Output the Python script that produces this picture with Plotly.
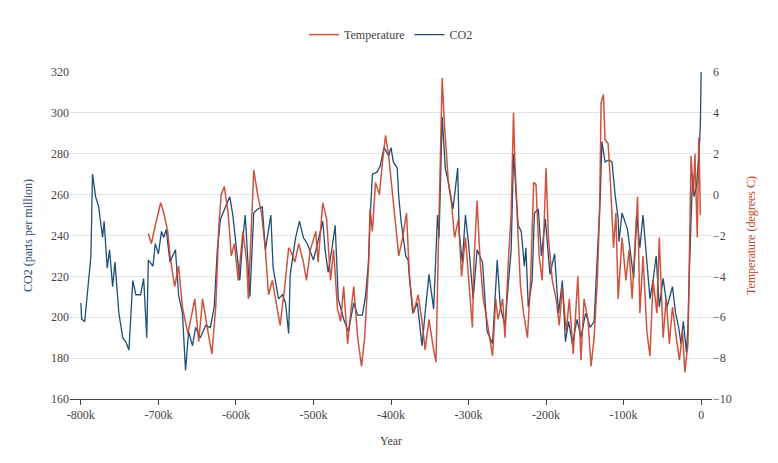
import plotly.graph_objects as go

co2_year_k = [-800,-799,-795,-790,-787,-785,-781,-777,-772,-770,-766,-763,-759,-756,-751,-746,-742,-738,-733,-729,-723,-719,-715,-713,-707,-704,-700,-696,-693,-690,-685,-678,-674,-669,-665,-661,-656,-652,-646,-639,-633,-628,-624,-620,-613,-608,-604,-600,-595,-591,-588,-582,-577,-572,-566,-562,-555,-552,-545,-540,-536,-532,-530,-523,-518,-513,-508,-500,-494,-488,-485,-481,-476,-472,-468,-461,-455,-448,-443,-437,-433,-429,-427,-424,-418,-414,-409,-403,-400,-397,-392,-390,-387,-381,-378,-372,-366,-360,-356,-351,-345,-340,-338,-334,-330,-326,-320,-314,-312,-308,-304,-300,-294,-289,-282,-276,-269,-263,-259,-253,-249,-245,-242,-238,-236,-232,-228,-226,-223,-218,-215,-210,-206,-201,-195,-189,-184,-179,-175,-171,-166,-160,-155,-149,-143,-138,-133,-130,-128,-124,-119,-115,-111,-107,-106,-102,-95,-92,-87,-83,-79,-75,-70,-66,-62,-58,-54,-49,-44,-37,-33,-29,-26,-23,-19,-17,-15,-11,-9,-6,-3,-1,0]
co2_ppm = [207,199,198,218,230,270,259,254,239,247,224,233,215,227,202,190,188,184,218,211,211,219,190,228,225,236,231,242,239,243,227,233,211,202,174,193,186,195,190,196,195,205,233,248,254,259,250,236,218,239,250,210,251,253,254,233,250,224,209,211,207,192,221,239,247,239,236,228,237,247,233,222,234,245,209,199,193,207,201,201,210,227,248,270,271,274,283,279,283,276,273,259,247,230,228,202,207,186,202,221,204,250,239,298,273,266,253,273,241,227,250,236,209,233,227,193,187,228,205,196,215,233,280,256,245,242,225,234,205,218,251,253,230,248,221,231,202,218,188,198,187,199,190,202,195,198,233,260,286,276,277,276,260,248,237,251,243,233,219,250,234,250,227,209,218,230,205,219,205,215,202,195,187,198,183,195,225,270,259,264,279,294,320]

temp_year_k = [-713,-709,-704,-697,-693,-688,-685,-679,-674,-669,-662,-658,-653,-648,-643,-637,-631,-626,-622,-619,-615,-610,-606,-602,-597,-591,-586,-584,-579,-577,-572,-567,-562,-558,-553,-546,-543,-537,-532,-530,-524,-519,-513,-509,-504,-497,-494,-488,-483,-478,-474,-469,-465,-461,-456,-452,-448,-443,-438,-434,-429,-427,-424,-420,-415,-411,-407,-403,-398,-394,-390,-385,-380,-376,-371,-365,-360,-356,-351,-345,-342,-339,-336,-334,-331,-326,-322,-318,-313,-309,-304,-299,-295,-293,-289,-285,-281,-276,-269,-265,-262,-256,-253,-249,-245,-242,-240,-236,-233,-229,-224,-220,-216,-213,-209,-205,-200,-197,-192,-187,-183,-179,-174,-170,-165,-159,-155,-151,-146,-142,-138,-134,-131,-129,-126,-124,-120,-117,-113,-110,-107,-102,-97,-93,-89,-82,-79,-75,-70,-66,-62,-57,-54,-49,-45,-41,-37,-32,-28,-24,-21,-17,-15,-13,-10,-8,-5,-3,-1]
temp_c = [-1.9,-2.4,-1.5,-0.4,-0.9,-1.8,-3.0,-4.5,-3.5,-5.5,-6.8,-6.1,-5.1,-7.2,-5.1,-6.5,-7.8,-5.5,-1.5,0.0,0.4,-0.9,-3.0,-2.4,-4.2,-1.8,-3.3,-5.1,0.0,1.2,0.0,-0.9,-2.7,-4.9,-4.2,-5.8,-6.4,-4.5,-2.6,-2.7,-3.3,-2.4,-3.3,-4.2,-2.7,-1.8,-3.3,-0.4,-1.2,-4.2,-2.7,-5.6,-6.2,-4.5,-7.3,-5.8,-4.5,-7.0,-8.4,-7.0,-3.5,-0.7,-1.8,0.6,0.0,1.6,2.9,1.9,0.0,-1.2,-3.0,-2.1,-0.9,-4.2,-5.8,-4.9,-6.2,-7.6,-6.1,-7.6,-8.2,-2.7,1.6,5.7,3.4,0.6,-0.4,-2.1,-1.2,-4.0,-2.1,-4.5,-6.5,-3.3,-0.3,-3.3,-5.1,-6.2,-7.9,-5.1,-6.1,-5.1,-7.0,-3.5,-0.9,4.0,1.4,-2.1,-4.5,-5.8,-7.0,-4.2,0.6,0.5,-3.0,-4.2,1.3,-2.1,-4.2,-5.1,-6.4,-4.5,-6.7,-5.1,-7.8,-4.0,-8.1,-5.1,-6.1,-8.4,-7.0,-4.2,-0.9,4.5,4.9,2.7,2.5,0.6,-2.6,-0.9,-5.1,-2.1,-4.2,-2.7,-5.1,-0.1,-5.8,-3.0,-6.7,-7.9,-4.2,-5.8,-2.1,-7.0,-5.1,-7.3,-5.5,-7.0,-8.1,-6.7,-8.7,-7.3,-2.7,1.9,0.0,2.0,-2.1,2.8,-1.0]

x_tick_vals = [-800000, -700000, -600000, -500000, -400000, -300000, -200000, -100000, 0]
x_tick_text = ["-800k", "-700k", "-600k", "-500k", "-400k", "-300k", "-200k", "-100k", "0"]

co2_x = [v * 1000 for v in co2_year_k]
temp_x = [v * 1000 for v in temp_year_k]

FONT = "Liberation Serif"
fig = go.Figure()
fig.add_trace(go.Scatter(x=temp_x, y=temp_c, name="Temperature", mode="lines",
                         line=dict(color="#c8432a", width=1.5), opacity=0.9, yaxis="y2"))
fig.add_trace(go.Scatter(x=co2_x, y=co2_ppm, name="CO2", mode="lines",
                         line=dict(color="#1f4e78", width=1.3)))
fig.update_layout(
    width=778, height=463, paper_bgcolor="white", plot_bgcolor="white",
    margin=dict(l=62, r=74, t=42, b=72),
    font=dict(family=FONT, size=12, color="#444"),
    legend=dict(orientation="h", x=0.5, xanchor="center", y=1.07, yanchor="bottom",
                font=dict(size=12, color="#444")),
    xaxis=dict(range=[-814000, 14000], showgrid=False, showline=True, linecolor="#444",
               ticks="outside", ticklen=5, tickcolor="#444",
               tickvals=x_tick_vals, ticktext=x_tick_text,
               title=dict(text="Year", font=dict(size=12)), zeroline=False),
    yaxis=dict(range=[160, 320], dtick=20, gridcolor="#e4e4e4", zeroline=False,
               title=dict(text="CO2 (parts per million)", font=dict(color="#1f4e78", size=12))),
    yaxis2=dict(range=[-10, 6], dtick=2, overlaying="y", side="right", showgrid=False,
                zeroline=False,
                title=dict(text="Temperature (degrees C)", font=dict(color="#c8432a", size=12))),
)
fig.write_html("out.html")
